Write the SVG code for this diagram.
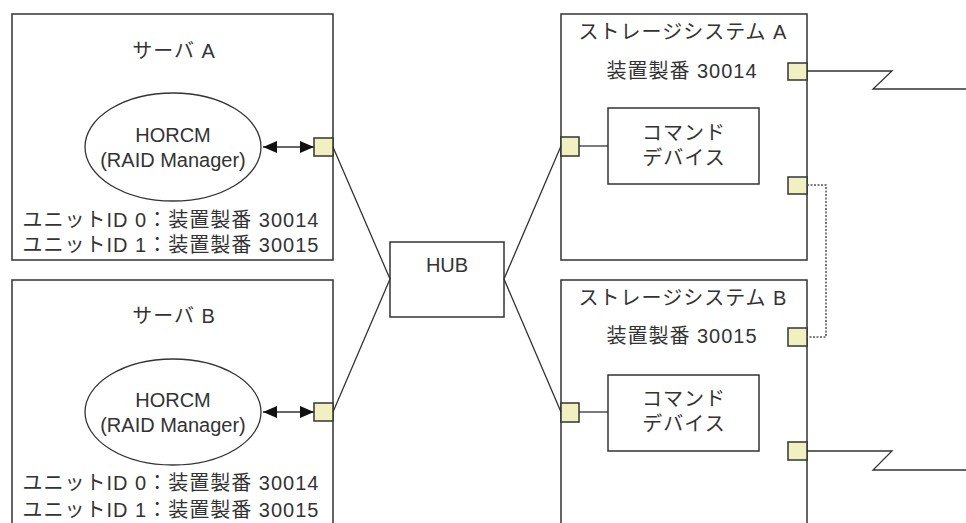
<svg xmlns="http://www.w3.org/2000/svg" width="966" height="523" viewBox="0 0 966 523">
<defs>
<style>
.box{fill:#fff;stroke:#333;stroke-width:1.5}
.port{fill:#F0F0C0;stroke:#333;stroke-width:1.5}
.ln{fill:none;stroke:#333;stroke-width:1.3}
.dot{fill:none;stroke:#555;stroke-width:1.5;stroke-dasharray:2,1.5}
text{font-family:"Liberation Sans","Noto Sans CJK JP",sans-serif;font-size:20px;fill:#333;text-anchor:middle}
.jp{letter-spacing:1px}
</style>
<marker id="ah" viewBox="0 0 14 12" refX="14" refY="6" markerWidth="14" markerHeight="12" markerUnits="userSpaceOnUse" orient="auto-start-reverse">
<path d="M0,0 L14,6 L0,12 Z" fill="#111"/>
</marker>
</defs>
<rect width="966" height="523" fill="#fff"/>

<g id="serverA">
<rect class="box" x="12" y="14" width="321" height="246"/>
<text class="jp" x="174" y="58">サーバ A</text>
<ellipse cx="173" cy="147" rx="88" ry="54" fill="#fff" stroke="#333" stroke-width="1.3"/>
<text x="173" y="142">HORCM</text>
<text x="173" y="167">(RAID Manager)</text>
<text class="jp" x="171" y="227">ユニットID 0：装置製番 30014</text>
<text class="jp" x="171" y="252">ユニットID 1：装置製番 30015</text>
<rect class="port" x="314" y="138" width="19" height="18"/>
</g>

<g id="serverB">
<rect class="box" x="12" y="280" width="321" height="260"/>
<text class="jp" x="174" y="323">サーバ B</text>
<ellipse cx="173" cy="412" rx="88" ry="53" fill="#fff" stroke="#333" stroke-width="1.3"/>
<text x="173" y="407">HORCM</text>
<text x="173" y="432">(RAID Manager)</text>
<text class="jp" x="171" y="490">ユニットID 0：装置製番 30014</text>
<text class="jp" x="171" y="517">ユニットID 1：装置製番 30015</text>
<rect class="port" x="314" y="403" width="19" height="18"/>
</g>

<g id="hub">
<rect class="box" x="390" y="242" width="114" height="75"/>
<text x="447" y="272">HUB</text>
</g>

<g id="storageA">
<rect class="box" x="561" y="14" width="246" height="246"/>
<text class="jp" x="683" y="39">ストレージシステム A</text>
<text class="jp" x="682" y="78">装置製番 30014</text>
<rect class="box" x="608" y="108" width="151" height="76"/>
<text class="jp" x="684" y="140">コマンド</text>
<text class="jp" x="684" y="165">デバイス</text>
<rect class="port" x="561" y="137" width="18" height="19"/>
<rect class="port" x="788" y="63" width="19" height="17"/>
<rect class="port" x="788" y="177" width="19" height="17"/>
</g>

<g id="storageB">
<rect class="box" x="561" y="280" width="246" height="260"/>
<text class="jp" x="683" y="305">ストレージシステム B</text>
<text class="jp" x="682" y="343">装置製番 30015</text>
<rect class="box" x="608" y="375" width="151" height="76"/>
<text class="jp" x="684" y="406">コマンド</text>
<text class="jp" x="684" y="431">デバイス</text>
<rect class="port" x="561" y="403" width="18" height="19"/>
<rect class="port" x="788" y="328" width="19" height="18"/>
<rect class="port" x="788" y="442" width="19" height="18"/>
</g>

<g id="connectors">
<line class="ln" x1="263" y1="147" x2="314" y2="147" marker-start="url(#ah)" marker-end="url(#ah)"/>
<line class="ln" x1="263" y1="412" x2="314" y2="412" marker-start="url(#ah)" marker-end="url(#ah)"/>
<polyline class="ln" points="333,147 390,279 333,412"/>
<polyline class="ln" points="561,146 504,279 561,412"/>
<line class="ln" x1="579" y1="146" x2="608" y2="146"/>
<line class="ln" x1="579" y1="412" x2="608" y2="412"/>
<polyline class="ln" points="807,71 892,71 873,89 966,89"/>
<polyline class="ln" points="807,451 892,451 873,470 966,470"/>
<polyline class="dot" points="807,185 826,185 826,337 807,337"/>
</g>
</svg>
